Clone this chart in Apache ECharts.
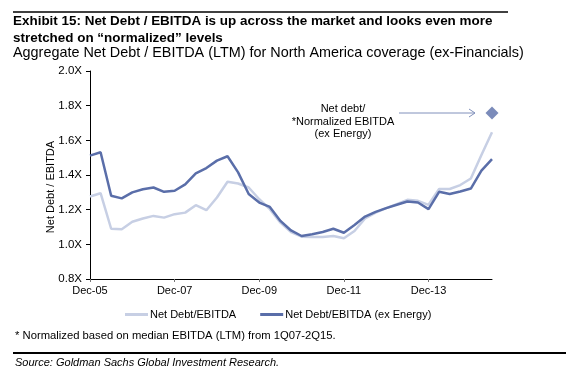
<!DOCTYPE html>
<html><head><meta charset="utf-8">
<script src="https://cdn.jsdelivr.net/npm/echarts@6/dist/echarts.min.js"></script>
<style>html,body{margin:0;padding:0;background:#fff}#c{width:566px;height:383px}</style>
</head><body><div id="c"></div>
<script>
const quarters = [];
(function(){const m=['Mar','Jun','Sep','Dec'];let y=5,q=3;for(let i=0;i<39;i++){quarters.push(m[q]+'-'+String(y).padStart(2,'0'));q++;if(q>3){q=0;y++;}}})();
const netDebtEbitda = [1.276,1.295,1.09,1.087,1.13,1.149,1.164,1.154,1.174,1.183,1.226,1.197,1.27,1.361,1.351,1.328,1.26,1.203,1.125,1.071,
  1.044,1.042,1.042,1.048,1.035,1.077,1.149,1.183,1.209,1.232,1.257,1.251,1.228,1.319,1.319,1.342,1.38,1.515,1.647];
const netDebtExEnergy = [1.512,1.531,1.28,1.265,1.30,1.318,1.328,1.303,1.309,1.346,1.41,1.44,1.483,1.508,1.415,1.29,1.241,1.216,1.135,1.08,
  1.048,1.058,1.071,1.09,1.067,1.112,1.16,1.187,1.209,1.228,1.247,1.241,1.203,1.303,1.29,1.305,1.322,1.425,1.492];
const normalizedPoint = ['Jun-15', 1.757];
const tickLabels = ['Dec-05','Dec-07','Dec-09','Dec-11','Dec-13'];

const dark = '#5a6ea9', light = '#c7cfe4';
const chart = echarts.init(document.getElementById('c'));
chart.setOption({
  animation:false,
  textStyle:{fontFamily:'Liberation Sans, Arial, sans-serif'},
  grid:{left:90,right:74,top:71,bottom:104},
  xAxis:{type:'category',data:quarters,boundaryGap:false,
    axisLine:{lineStyle:{color:'#000',width:1}},
    axisTick:{interval:(i,v)=>tickLabels.includes(v),length:3,lineStyle:{color:'#777'}},
    axisLabel:{interval:(i,v)=>tickLabels.includes(v),color:'#000',fontSize:11,margin:6},
    splitLine:{show:false}},
  yAxis:{type:'value',min:0.8,max:2.0,interval:0.2,
    axisLine:{show:true,lineStyle:{color:'#000',width:1}},
    axisTick:{show:true,length:4,lineStyle:{color:'#000'}},
    axisLabel:{color:'#000',fontSize:11.5,margin:8,formatter:v=>v.toFixed(1)+'X'},
    splitLine:{show:false}},
  legend:{left:120,top:304,itemWidth:23,itemHeight:3,itemGap:24,icon:'rect',
    textStyle:{color:'#000',fontSize:11,padding:[0,0,0,-3]},
    data:['Net Debt/EBITDA','Net Debt/EBITDA (ex Energy)']},
  series:[
    {name:'Net Debt/EBITDA',type:'line',data:netDebtEbitda,symbol:'none',lineStyle:{color:light,width:2.5},itemStyle:{color:light}},
    {name:'Net Debt/EBITDA (ex Energy)',type:'line',data:netDebtExEnergy,symbol:'none',lineStyle:{color:dark,width:2.5},itemStyle:{color:dark}},
    {name:'Normalized',type:'scatter',data:[normalizedPoint],symbol:'diamond',symbolSize:13,itemStyle:{color:dark}}
  ],
  graphic:[
    {type:'line',shape:{x1:13,y1:12,x2:508,y2:12},style:{stroke:'#000',lineWidth:1.5}},
    {type:'text',left:13,top:13,style:{text:'Exhibit 15: Net Debt / EBITDA is up across the market and looks even more\nstretched on “normalized” levels',font:'bold 13.45px Liberation Sans, Arial, sans-serif',fill:'#000',lineHeight:17}},
    {type:'text',left:13,top:46,style:{text:'Aggregate Net Debt / EBITDA (LTM) for North America coverage (ex-Financials)',font:'14.4px Liberation Sans, Arial, sans-serif',fill:'#000'}},
    {type:'text',x:51,y:187,rotation:Math.PI/2,style:{text:'Net Debt / EBITDA',font:'11px Liberation Sans, Arial, sans-serif',fill:'#000',textAlign:'center',textVerticalAlign:'middle'}},
    {type:'text',left:15,top:330,style:{text:'* Normalized based on median EBITDA (LTM) from 1Q07-2Q15.',font:'11.25px Liberation Sans, Arial, sans-serif',fill:'#000'}},
    {type:'line',shape:{x1:13,y1:353,x2:566,y2:353},style:{stroke:'#000',lineWidth:2}},
    {type:'text',left:15,top:357,style:{text:'Source: Goldman Sachs Global Investment Research.',font:'italic 11px Liberation Sans, Arial, sans-serif',fill:'#000'}},
    {type:'text',x:343,y:103,style:{text:'Net debt/\n*Normalized EBITDA\n(ex Energy)',font:'11px Liberation Sans, Arial, sans-serif',fill:'#000',textAlign:'center',lineHeight:12.5}},
    {type:'line',shape:{x1:399,y1:113,x2:475,y2:113},style:{stroke:'#8090bb',lineWidth:1}},
    {type:'polyline',shape:{points:[[469,109],[475,113],[469,117]]},style:{stroke:'#8090bb',lineWidth:1,fill:null}}
  ]
});
</script></body></html>
